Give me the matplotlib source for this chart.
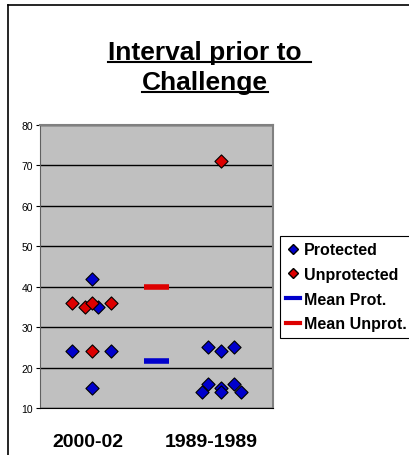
import matplotlib
matplotlib.use("Agg")
import matplotlib.pyplot as plt
from matplotlib.lines import Line2D

plt.rcParams['font.family'] = ['Liberation Sans', 'DejaVu Sans']

groups = ['2000-02', '1989-1989']
label_x = [1.85, 6.6]

# protected (blue)
prot_x = [2.0, 2.25, 1.25, 2.0, 2.75, 6.5, 7.0, 7.5, 6.5, 7.0, 7.0, 7.5, 6.25, 7.75]
prot_y = [42, 35, 24, 15, 24, 25, 24, 25, 16, 15, 14, 16, 14, 14]
# unprotected (red)
unprot_x = [1.25, 1.75, 2.0, 2.75, 2.0, 7.0]
unprot_y = [36, 35, 36, 36, 24, 71]

mean_x = 4.5
mean_prot = 21.7
mean_unprot = 39.9

blue = '#0000CC'
red = '#DD0000'

W, H = 410, 456
fig = plt.figure(figsize=(4.1, 4.56), dpi=100)
ax = fig.add_axes([40 / W, 1 - 409 / H, 233 / W, 283 / H])
ax.set_facecolor('#C0C0C0')

ax.set_xlim(0, 9)
ax.set_ylim(10, 80)
ax.set_yticks(range(10, 81, 10))
ax.yaxis.grid(True, color='black', linewidth=1)
ax.set_axisbelow(True)

ax.plot([mean_x - 0.5, mean_x + 0.5], [mean_prot] * 2, color=blue, lw=4, solid_capstyle='butt')
ax.plot([mean_x - 0.5, mean_x + 0.5], [mean_unprot] * 2, color=red, lw=4, solid_capstyle='butt')
ax.scatter(prot_x, prot_y, marker='D', s=45, color=blue, edgecolors='black', linewidths=0.8, zorder=3)
ax.scatter(unprot_x, unprot_y, marker='D', s=45, color=red, edgecolors='black', linewidths=0.8, zorder=3)

ax.set_xticks(label_x)
ax.set_xticklabels(groups, fontsize=14, fontweight='bold')
ax.tick_params(axis='x', length=0, pad=18)
ax.tick_params(axis='y', labelsize=7.5, length=3, width=0.8, pad=2)

for s in ['top', 'right']:
    ax.spines[s].set_color('#808080')
    ax.spines[s].set_linewidth(1.5)
ax.spines['left'].set_color('#606060')
ax.spines['bottom'].set_color('black')

# title, two underlined lines
base1, base2 = 60, 90
t1 = fig.text(205 / W, 1 - base1 / H, 'Interval prior to', ha='center', va='baseline',
              fontsize=19, fontweight='bold')
t2 = fig.text(205 / W, 1 - base2 / H, 'Challenge', ha='center', va='baseline',
              fontsize=19, fontweight='bold')
fig.canvas.draw()
inv = fig.transFigure.inverted()
for t, base, extra in [(t1, base1, 9), (t2, base2, 0)]:
    bb = t.get_window_extent()
    (x0, _), (x1, _) = inv.transform([(bb.x0, 0), (bb.x1 + extra, 0)])
    yb = 1 - (base + 3) / H
    fig.add_artist(Line2D([x0, x1], [yb, yb], color='black', lw=1.5))

handles = [
    Line2D([], [], marker='D', ls='', color=blue, markeredgecolor='black', markersize=5, label='Protected'),
    Line2D([], [], marker='D', ls='', color=red, markeredgecolor='black', markersize=5, label='Unprotected'),
    Line2D([], [], color=blue, lw=3, label='Mean Prot.'),
    Line2D([], [], color=red, lw=3, label='Mean Unprot.'),
]
leg = fig.legend(handles=handles, loc='upper left', bbox_to_anchor=(280 / W, 1 - 237 / H),
                 frameon=True, fancybox=False, edgecolor='black', framealpha=1,
                 prop={'weight': 'bold', 'size': 11.5}, handlelength=0.85,
                 handletextpad=0.25, borderpad=0.4, labelspacing=0.6, borderaxespad=0)
leg.get_frame().set_linewidth(0.8)

# chart border (left and top edges visible)
fig.add_artist(Line2D([8 / W, 8 / W], [0, 1 - 6 / H], color='black', lw=1.2))
fig.add_artist(Line2D([8 / W, 1], [1 - 6 / H, 1 - 6 / H], color='black', lw=1.2))

fig.savefig('out.png', dpi=100)
